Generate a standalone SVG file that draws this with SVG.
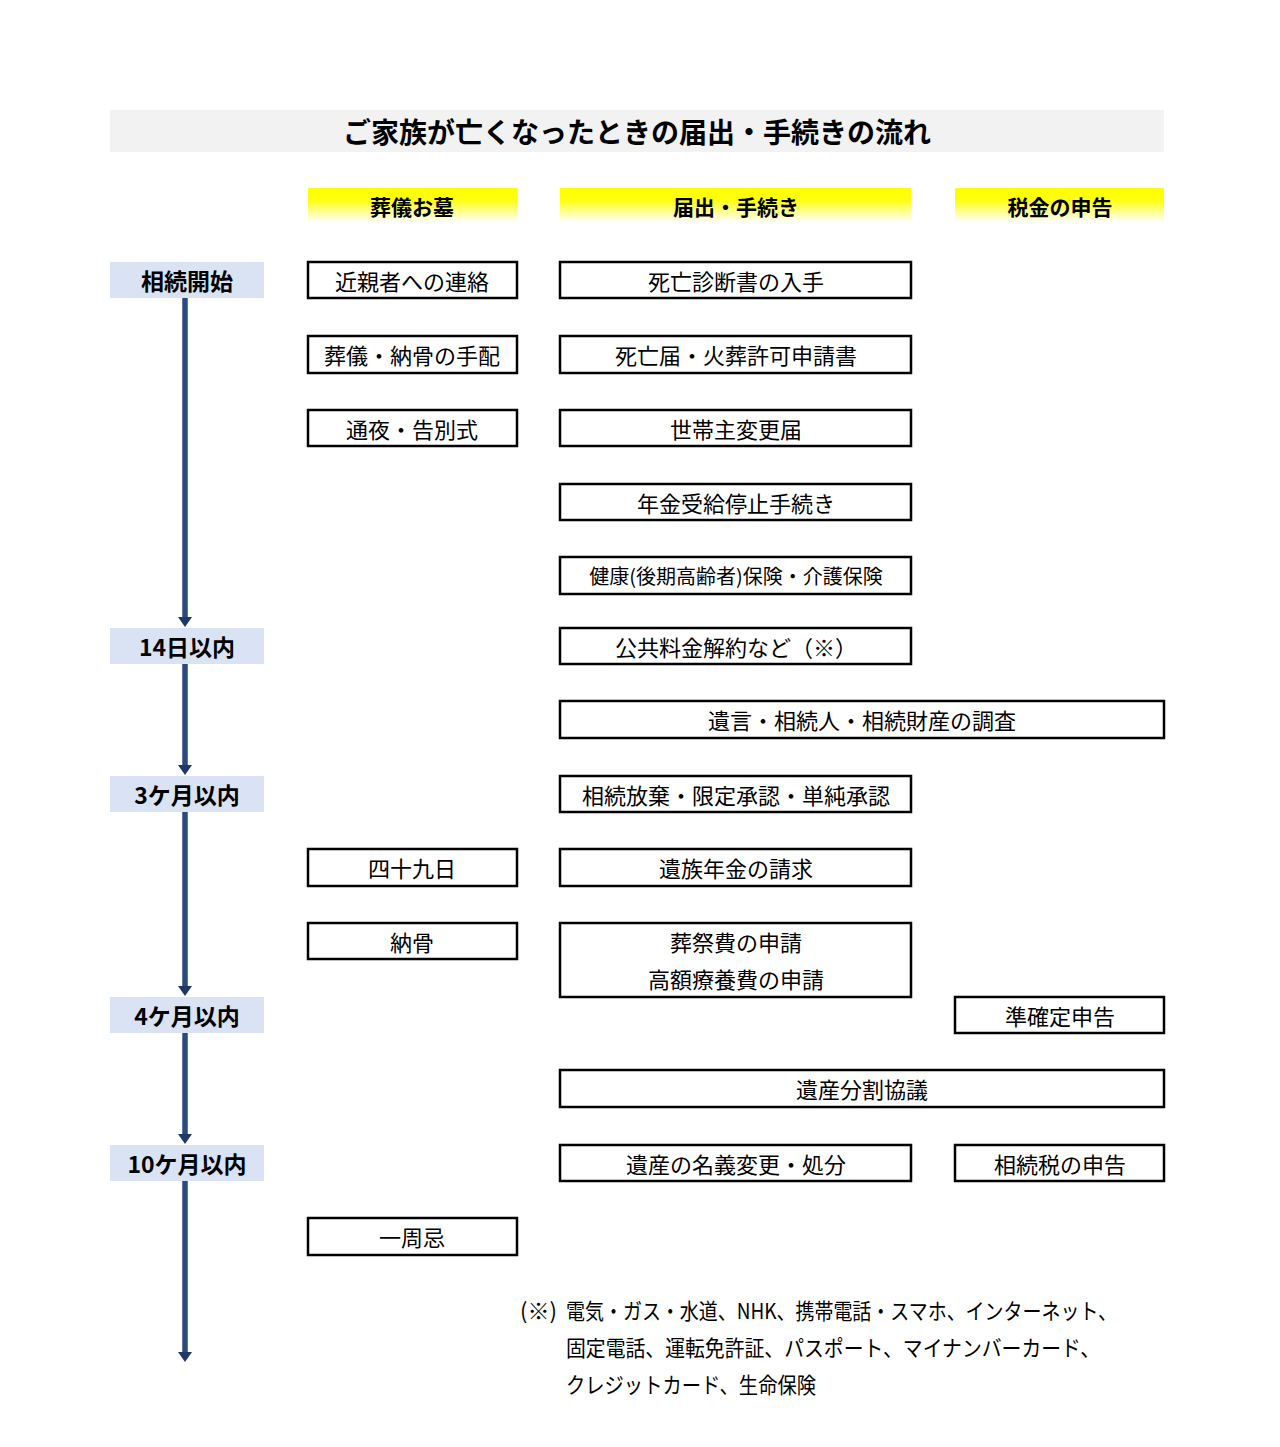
<svg xmlns="http://www.w3.org/2000/svg" width="1280" height="1447" viewBox="0 0 1280 1447">
<defs>
<linearGradient id="yel" x1="0" y1="0" x2="0" y2="1">
<stop offset="0" stop-color="#ffff00"/>
<stop offset="0.35" stop-color="#ffff10"/>
<stop offset="1" stop-color="#ffffff"/>
</linearGradient>
<marker id="ah" viewBox="0 0 10 14" refX="4" refY="7" markerWidth="10" markerHeight="14" markerUnits="userSpaceOnUse" orient="auto">
<path d="M0,0 L10,7 L0,14 z" fill="#203864"/>
</marker>
<style>
text{font-family:"Noto Sans CJK JP","Noto Sans CJK SC",sans-serif;fill:#000}
.box{fill:#fff;stroke:#000;stroke-width:2.5}
.bt{font-size:22px;text-anchor:middle;dominant-baseline:central}
.hd{fill:url(#yel)}
.ht{font-size:21px;font-weight:bold;text-anchor:middle;dominant-baseline:central}
.tl{fill:#dae3f3}
.tt{font-size:23px;font-weight:bold;text-anchor:middle;dominant-baseline:central}
.arr{stroke:#2a4a80;stroke-width:5.5;fill:none;marker-end:url(#ah)}
.fn{font-size:22px}
</style>
</defs>
<rect width="1280" height="1447" fill="#fff"/>
<g id="title">
<rect x="110" y="110" width="1054" height="42" fill="#f2f2f2"/>
<text x="637" y="131" style="font-size:28px;font-weight:bold;text-anchor:middle;dominant-baseline:central">ご家族が亡くなったときの届出・手続きの流れ</text>
</g>
<g id="headers">
<g id="h1"><rect class="hd" x="308" y="188" width="209" height="34"/><text class="ht" x="412" y="206">葬儀お墓</text></g>
<g id="h2"><rect class="hd" x="560" y="188" width="351" height="34"/><text class="ht" x="736" y="206">届出・手続き</text></g>
<g id="h3"><rect class="hd" x="955" y="188" width="209" height="34"/><text class="ht" x="1060" y="206">税金の申告</text></g>
</g>
<g id="connectors">
<line class="arr" x1="185" y1="298" x2="185" y2="621"/>
<line class="arr" x1="185" y1="664" x2="185" y2="769"/>
<line class="arr" x1="185" y1="812" x2="185" y2="990"/>
<line class="arr" x1="185" y1="1033" x2="185" y2="1138"/>
<line class="arr" x1="185" y1="1181" x2="185" y2="1356"/>
</g>
<g id="timeline">
<g id="t1"><rect class="tl" x="110" y="262" width="154" height="36"/><text class="tt" x="187" y="280">相続開始</text></g>
<g id="t2"><rect class="tl" x="110" y="628" width="154" height="36"/><text class="tt" x="187" y="646">14日以内</text></g>
<g id="t3"><rect class="tl" x="110" y="776" width="154" height="36"/><text class="tt" x="187" y="794">3ケ月以内</text></g>
<g id="t4"><rect class="tl" x="110" y="997" width="154" height="36"/><text class="tt" x="187" y="1015">4ケ月以内</text></g>
<g id="t5"><rect class="tl" x="110" y="1145" width="154" height="36"/><text class="tt" x="187" y="1163">10ケ月以内</text></g>
</g>
<g id="n1"><rect class="box" x="308" y="262" width="209" height="36"/><text class="bt" x="412" y="280">近親者への連絡</text></g>
<g id="n2"><rect class="box" x="308" y="336" width="209" height="37"/><text class="bt" x="412" y="354">葬儀・納骨の手配</text></g>
<g id="n3"><rect class="box" x="308" y="410" width="209" height="36"/><text class="bt" x="412" y="428">通夜・告別式</text></g>
<g id="n4"><rect class="box" x="308" y="849" width="209" height="37"/><text class="bt" x="412" y="867">四十九日</text></g>
<g id="n5"><rect class="box" x="308" y="923" width="209" height="36"/><text class="bt" x="412" y="941">納骨</text></g>
<g id="n6"><rect class="box" x="308" y="1218" width="209" height="37"/><text class="bt" x="412" y="1236">一周忌</text></g>
<g id="m1"><rect class="box" x="560" y="262" width="351" height="36"/><text class="bt" x="736" y="280">死亡診断書の入手</text></g>
<g id="m2"><rect class="box" x="560" y="336" width="351" height="37"/><text class="bt" x="736" y="354">死亡届・火葬許可申請書</text></g>
<g id="m3"><rect class="box" x="560" y="410" width="351" height="36"/><text class="bt" x="736" y="428">世帯主変更届</text></g>
<g id="m4"><rect class="box" x="560" y="484" width="351" height="36"/><text class="bt" x="736" y="502">年金受給停止手続き</text></g>
<g id="m5"><rect class="box" x="560" y="557" width="351" height="37"/><text class="bt" x="736" y="575" style="font-size:20px">健康(後期高齢者)保険・介護保険</text></g>
<g id="m6"><rect class="box" x="560" y="628" width="351" height="36"/><text class="bt" x="736" y="646">公共料金解約など（※）</text></g>
<g id="m7"><rect class="box" x="560" y="701" width="604" height="37"/><text class="bt" x="862" y="719">遺言・相続人・相続財産の調査</text></g>
<g id="m8"><rect class="box" x="560" y="776" width="351" height="36"/><text class="bt" x="736" y="794">相続放棄・限定承認・単純承認</text></g>
<g id="m9"><rect class="box" x="560" y="849" width="351" height="37"/><text class="bt" x="736" y="867">遺族年金の請求</text></g>
<g id="m10"><rect class="box" x="560" y="923" width="351" height="74"/><text class="bt" x="736" y="941">葬祭費の申請</text><text class="bt" x="736" y="978">高額療養費の申請</text></g>
<g id="m11"><rect class="box" x="560" y="1070" width="604" height="37"/><text class="bt" x="862" y="1088">遺産分割協議</text></g>
<g id="m12"><rect class="box" x="560" y="1145" width="351" height="36"/><text class="bt" x="736" y="1163">遺産の名義変更・処分</text></g>
<g id="r1"><rect class="box" x="955" y="997" width="209" height="36"/><text class="bt" x="1060" y="1015">準確定申告</text></g>
<g id="r2"><rect class="box" x="955" y="1145" width="209" height="36"/><text class="bt" x="1060" y="1163">相続税の申告</text></g>
<g id="footnote">
<text class="fn" x="520" y="1319">(※)</text>
<text class="fn" x="566" y="1319" textLength="551" lengthAdjust="spacingAndGlyphs">電気・ガス・水道、NHK、携帯電話・スマホ、インターネット、</text>
<text class="fn" x="566" y="1356" textLength="534" lengthAdjust="spacingAndGlyphs">固定電話、運転免許証、パスポート、マイナンバーカード、</text>
<text class="fn" x="566" y="1393" textLength="250" lengthAdjust="spacingAndGlyphs">クレジットカード、生命保険</text>
</g>
</svg>
